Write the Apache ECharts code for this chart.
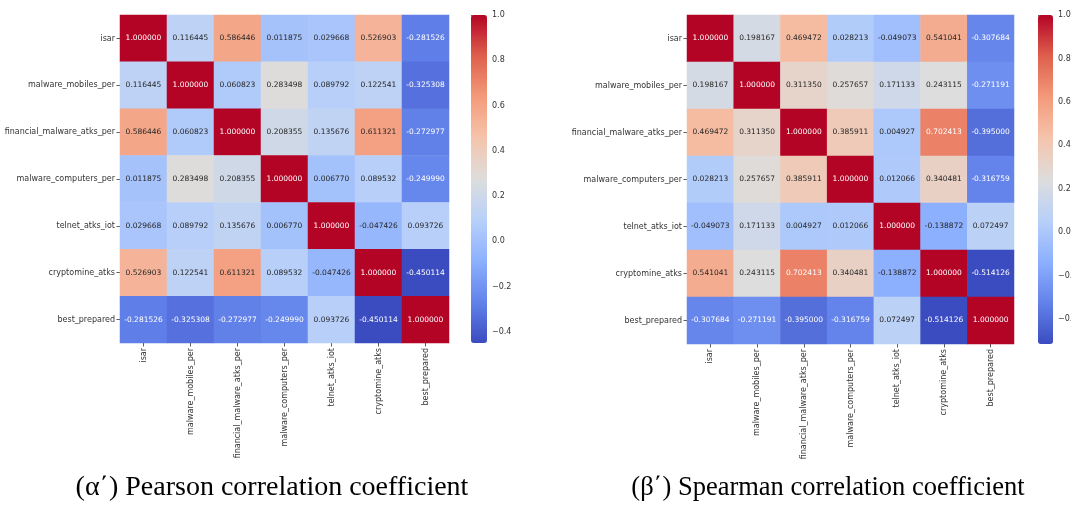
<!DOCTYPE html>
<html>
<head>
<meta charset="utf-8">
<script src="https://cdn.jsdelivr.net/npm/echarts@6/dist/echarts.min.js"></script>
<style>html,body{margin:0;padding:0;background:#fff}#c{width:1071px;height:506px}</style>
</head>
<body>
<div id="c"></div>
<script>
const categories = ['isar','malware_mobiles_per','financial_malware_atks_per','malware_computers_per','telnet_atks_iot','cryptomine_atks','best_prepared'];

// Pearson correlation rows
const pIsar     = [1.000000, 0.116445, 0.586446, 0.011875, 0.029668, 0.526903, -0.281526];
const pMobiles  = [0.116445, 1.000000, 0.060823, 0.283498, 0.089792, 0.122541, -0.325308];
const pFinance  = [0.586446, 0.060823, 1.000000, 0.208355, 0.135676, 0.611321, -0.272977];
const pComputer = [0.011875, 0.283498, 0.208355, 1.000000, 0.006770, 0.089532, -0.249990];
const pTelnet   = [0.029668, 0.089792, 0.135676, 0.006770, 1.000000, -0.047426, 0.093726];
const pCrypto   = [0.526903, 0.122541, 0.611321, 0.089532, -0.047426, 1.000000, -0.450114];
const pBest     = [-0.281526, -0.325308, -0.272977, -0.249990, 0.093726, -0.450114, 1.000000];

// Spearman correlation rows
const sIsar     = [1.000000, 0.198167, 0.469472, 0.028213, -0.049073, 0.541041, -0.307684];
const sMobiles  = [0.198167, 1.000000, 0.311350, 0.257657, 0.171133, 0.243115, -0.271191];
const sFinance  = [0.469472, 0.311350, 1.000000, 0.385911, 0.004927, 0.702413, -0.395000];
const sComputer = [0.028213, 0.257657, 0.385911, 1.000000, 0.012066, 0.340481, -0.316759];
const sTelnet   = [-0.049073, 0.171133, 0.004927, 0.012066, 1.000000, -0.138872, 0.072497];
const sCrypto   = [0.541041, 0.243115, 0.702413, 0.340481, -0.138872, 1.000000, -0.514126];
const sBest     = [-0.307684, -0.271191, -0.395000, -0.316759, 0.072497, -0.514126, 1.000000];

const colorbarTicks = [-0.4, -0.2, 0.0, 0.2, 0.4, 0.6, 0.8, 1.0];
const captionA = '(α΄) Pearson correlation coefficient';
const captionB = '(β΄) Spearman correlation coefficient';

const pearson = [pIsar, pMobiles, pFinance, pComputer, pTelnet, pCrypto, pBest];
const spearman = [sIsar, sMobiles, sFinance, sComputer, sTelnet, sCrypto, sBest];

const coolwarm = [[59,76,192],[98,130,234],[141,176,254],[184,208,249],[221,221,221],[245,196,172],[244,154,123],[222,96,77],[180,4,38]];
const coolwarmHex = coolwarm.map(c => '#' + c.map(v => v.toString(16).padStart(2,'0')).join(''));

function cmap(t) {
  t = Math.max(0, Math.min(1, t));
  const f = t * (coolwarm.length - 1);
  const i = Math.min(coolwarm.length - 2, Math.floor(f));
  const r = f - i;
  return coolwarm[i].map((v, k) => v + (coolwarm[i+1][k] - v) * r);
}
function lum(rgb) {
  const l = rgb.map(v => { v /= 255; return v <= 0.03928 ? v / 12.92 : Math.pow((v + 0.055) / 1.055, 2.4); });
  return 0.2126 * l[0] + 0.7152 * l[1] + 0.0722 * l[2];
}
function minOf(m) { return Math.min(...m.map(r => Math.min(...r))); }

function buildData(m, vmin, vmax) {
  const out = [];
  m.forEach((row, y) => row.forEach((v, x) => {
    const c = cmap((v - vmin) / (vmax - vmin));
    out.push({ value: [x, y, v], label: { color: lum(c) < 0.408 ? '#ffffff' : '#262626' } });
  }));
  return out;
}

const pMin = minOf(pearson), sMin = minOf(spearman);
const FONT = 'DejaVu Sans';

const panels = [
  { grid: { left: 120, top: 15, width: 329, height: 328, outerBoundsMode: 'none' }, bar: { left: 471, top: 15, width: 16, height: 328, outerBoundsMode: 'none' }, min: pMin, data: pearson },
  { grid: { left: 687, top: 15, width: 327, height: 329, outerBoundsMode: 'none' }, bar: { left: 1038, top: 15, width: 15, height: 329, outerBoundsMode: 'none' }, min: sMin, data: spearman }
];

const grids = [], xAxes = [], yAxes = [], series = [], visualMaps = [];
panels.forEach((p, i) => {
  grids.push(p.grid);
  xAxes.push({
    type: 'category', data: categories, gridIndex: grids.length - 1,
    axisLine: { show: false }, splitLine: { show: false },
    axisTick: { show: true, alignWithLabel: true, length: 3.5, lineStyle: { color: '#333', width: 0.8 } },
    axisLabel: { rotate: 90, fontFamily: FONT, fontSize: 8, color: '#333', margin: 5, interval: 0 }
  });
  yAxes.push({
    type: 'category', data: categories, inverse: true, gridIndex: grids.length - 1,
    axisLine: { show: false }, splitLine: { show: false },
    axisTick: { show: true, alignWithLabel: true, length: 3.5, lineStyle: { color: '#333', width: 0.8 } },
    axisLabel: { fontFamily: FONT, fontSize: 8, color: '#333', margin: 5, interval: 0 }
  });
  series.push({
    type: 'heatmap', xAxisIndex: xAxes.length - 1, yAxisIndex: yAxes.length - 1,
    data: buildData(p.data, p.min, 1),
    label: { show: true, fontFamily: FONT, fontSize: 7.5, formatter: q => q.value[2].toFixed(6) },
    itemStyle: { borderWidth: 0 },
    emphasis: { disabled: true }
  });
  visualMaps.push({
    type: 'continuous', seriesIndex: series.length - 1, min: p.min, max: 1,
    left: p.bar.left, top: p.bar.top, itemWidth: p.bar.width, itemHeight: p.bar.height,
    padding: 0, calculable: false, text: null, showLabel: false, hoverLink: false,
    inRange: { color: coolwarmHex }
  });
  // colorbar axis
  grids.push(p.bar);
  xAxes.push({ type: 'value', gridIndex: grids.length - 1, show: false, min: 0, max: 1 });
  yAxes.push({
    type: 'value', gridIndex: grids.length - 1, position: 'right', min: p.min, max: 1,
    axisLine: { show: false }, splitLine: { show: false },
    axisTick: { show: true, length: 3.5, lineStyle: { color: '#333', width: 0.8 }, customValues: colorbarTicks },
    axisLabel: { show: true, fontFamily: FONT, fontSize: 8, color: '#333', margin: 5, customValues: colorbarTicks,
      hideOverlap: false, showMinLabel: true, showMaxLabel: true,
      formatter: v => (v < 0 ? '\u2212' : '') + Math.abs(v).toFixed(1) }
  });
});

const chart = echarts.init(document.getElementById('c'), null, { renderer: 'canvas' });
chart.setOption({
  animation: false,
  backgroundColor: '#ffffff',
  grid: grids, xAxis: xAxes, yAxis: yAxes, series: series, visualMap: visualMaps,
  graphic: [
    { type: 'text', x: 272, y: 488, style: { text: captionA, font: '28px "Liberation Serif"', fill: '#000', textAlign: 'center', textVerticalAlign: 'middle' } },
    { type: 'text', x: 828, y: 488, style: { text: captionB, font: '26.5px "Liberation Serif"', fill: '#000', textAlign: 'center', textVerticalAlign: 'middle' } }
  ]
});
</script>
</body>
</html>
